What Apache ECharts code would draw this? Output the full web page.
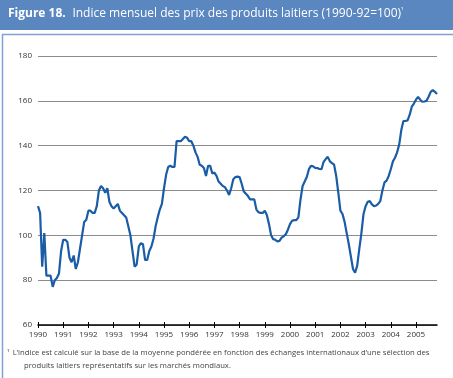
<!DOCTYPE html>
<html>
<head>
<meta charset="utf-8">
<script src="https://cdn.jsdelivr.net/npm/echarts@6/dist/echarts.min.js"></script>
<style>
html,body{margin:0;padding:0;background:#fff;}
#c{width:453px;height:378px;}
</style>
</head>
<body>
<div id="c"></div>
<script>
// Monthly index, January 1990 to November 2005
const startYear = 1990;
const values = [
 113,110,86,101,82,82,82,77,80,81,83,93,
 98,98,97,90,88,91,85,88,94,100,106,107,
 111,111,110,110,113,120,122,121,119,121,115,113,
 112,113,114,111,110,109,108,104,100,93,86,87,
 95,96.5,96,89,89,93,95,98.5,104,108,111.5,114,
 121,127,130.5,131,130.5,130.5,142,142,142,143,144,143.5,
 142,142,140,137,135,131.5,131,130,126.5,131,131,127.6,
 128,126.5,124,123,122,121.5,120,118,121,125,126,126.2,
 126,123,119.5,118.5,117.5,116,116,116,111.5,110.3,110,110,
 111,109,105,100,98.3,98,97.3,97.5,99,99.6,100.5,102.5,
 105,106.5,106.8,106.8,108,116,122,124,126,129.5,131,130.8,
 130.1,130,129.6,129.5,132.8,134,135,133,132.2,131.5,126.5,119,
 111,109.5,106,101,96,90.5,85,83.3,86.5,94,101,109.5,
 113,115,115.3,113.8,113,113.3,114,115.3,120,123.6,124.4,126.5,
 129.5,133,134.6,137,140.5,147,151,151,151.3,153.8,157.4,158.8,
 160.5,161.8,160.5,159.6,159.7,160,161.8,164,164.8,164,163
];
const months = values.map((v, i) => {
  const y = startYear + Math.floor(i / 12);
  const m = (i % 12) + 1;
  return y + '-' + (m < 10 ? '0' + m : m);
});
const yMin = 60, yMax = 180, yStep = 20;
const titleBold = 'Figure 18.';
const titleText = 'Indice mensuel des prix des produits laitiers (1990-92=100)';
const footnote1 = 'L\u2019indice est calculé sur la base de la moyenne pondérée en fonction des échanges internationaux d\u2019une sélection des';
const footnote2 = 'produits laitiers représentatifs sur les marchés mondiaux.';

const FONT = '"Open Sans", "Noto Sans", sans-serif';
const chart = echarts.init(document.getElementById('c'), null, {renderer: 'canvas'});
const yearTick = (idx) => idx % 12 === 0;

chart.setOption({
  animation: false,
  backgroundColor: '#ffffff',
  grid: {left: 38, right: 16, top: 56, bottom: 53, containLabel: false},
  xAxis: [{
    type: 'category',
    data: months,
    boundaryGap: false,
    axisLine: {show: true, lineStyle: {color: '#000', width: 1.5}},
    axisTick: {show: true, interval: yearTick, length: 3, lineStyle: {color: '#000', width: 1}},
    axisLabel: {
      interval: yearTick, margin: 6, color: '#333', fontSize: 8, fontFamily: FONT,
      formatter: (v) => v.slice(0, 4)
    },
    splitLine: {show: false}
  }, {
    type: 'category',
    data: months,
    boundaryGap: false,
    position: 'bottom',
    axisLine: {show: false},
    axisTick: {show: true, inside: true, interval: yearTick, length: 3, lineStyle: {color: '#000', width: 1}},
    axisLabel: {show: false},
    splitLine: {show: false}
  }],
  yAxis: {
    type: 'value',
    min: yMin, max: yMax, interval: yStep,
    axisLine: {show: false},
    axisTick: {show: false},
    axisLabel: {margin: 6, color: '#333', fontSize: 8, fontFamily: FONT},
    splitLine: {show: true, lineStyle: {color: '#8c8c8c', width: 1}}
  },
  series: [{
    type: 'line',
    data: values,
    xAxisIndex: 0,
    showSymbol: false,
    symbol: 'none',
    lineStyle: {color: '#1a5ca6', width: 2.2},
    z: 5
  }],
  graphic: [
    {type: 'rect', left: 0, top: 0, shape: {width: 453, height: 30}, style: {fill: '#5b87c1'}, silent: true},
    {type: 'rect', left: 0, top: 32, shape: {x: 0.75, y: 0.75, width: 451.5, height: 344.5},
      style: {fill: 'none', stroke: '#7ea3d3', lineWidth: 1.5}, silent: true},
    {type: 'text', left: 8, top: 7,
      style: {
        text: '{b|' + titleBold + '}  {n|' + titleText + '}{s|\u00b9}',
        rich: {
          b: {fill: '#fff', fontSize: 12, fontWeight: 'bold', fontFamily: FONT},
          n: {fill: '#fff', fontSize: 12, fontFamily: FONT},
          s: {fill: '#fff', fontSize: 7, fontFamily: FONT, verticalAlign: 'top', padding: [0, 0, 6, 0]}
        }
      }},
    {type: 'text', left: 7, top: 347,
      style: {
        text: '{s|\u00b9} {t|' + footnote1 + '}',
        rich: {
          s: {fill: '#444', fontSize: 7, fontFamily: FONT},
          t: {fill: '#444', fontSize: 7.7, fontFamily: FONT}
        }
      }},
    {type: 'text', left: 24, top: 362,
      style: {text: footnote2, fill: '#444', fontSize: 7.7, fontFamily: FONT}}
  ]
});
</script>
</body>
</html>
